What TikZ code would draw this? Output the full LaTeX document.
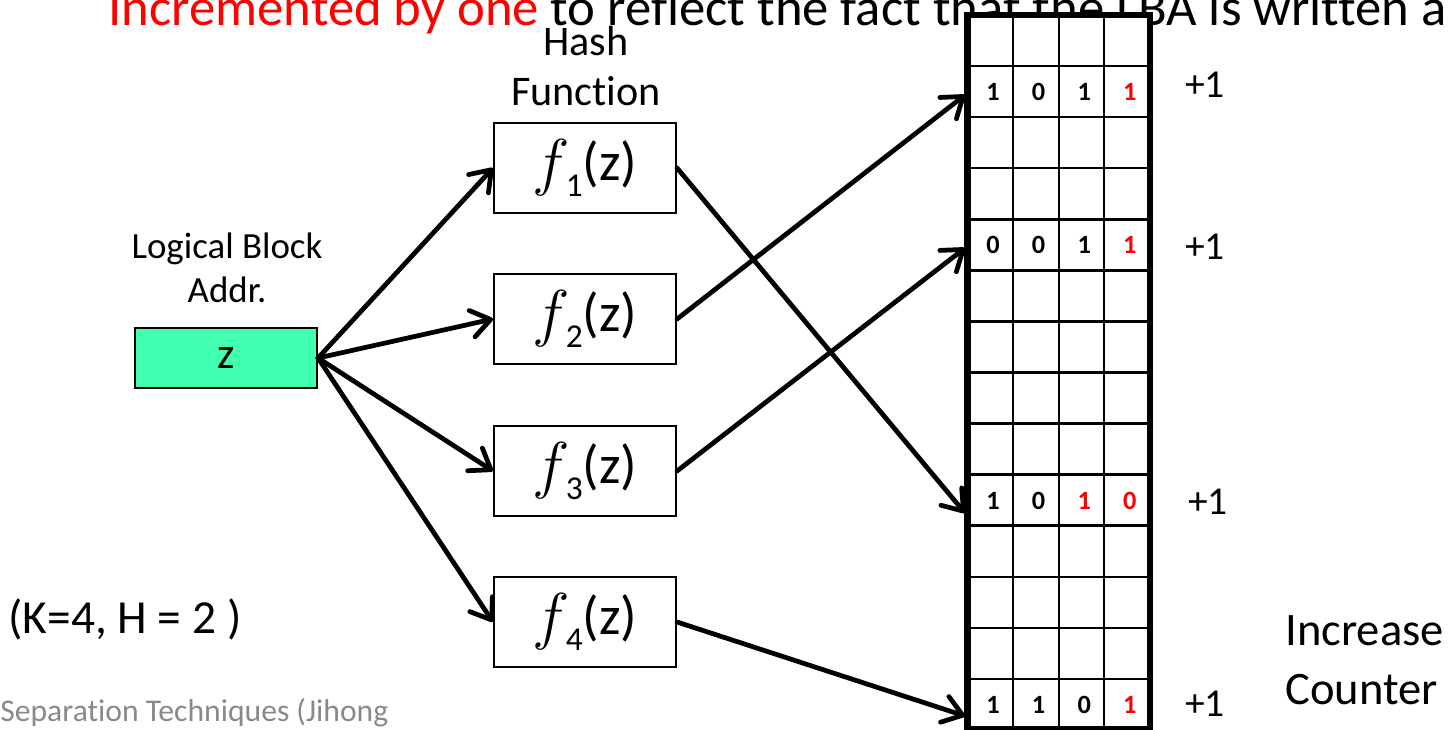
\documentclass[tikz,border=0pt]{standalone}
\usepackage{fontspec}
\setmainfont{Carlito}[Ligatures=NoCommon]
\usetikzlibrary{arrows.meta}
\definecolor{mint}{RGB}{64,255,175}
\definecolor{sepgray}{RGB}{137,137,137}
\newcommand\fsz[1]{\fontsize{#1}{#1}\selectfont}
\newcommand\fz[1]{\raisebox{-0.06em}{\scalebox{1.45}{$f$}}\kern-0.08em\raisebox{-0.3em}{\fsz{19}#1}(z)}
\tikzset{
  conn/.style={line width=2.7pt, line cap=round, -{Straight Barb[length=3.8mm,width=5.4mm,round]}},
  fbox/.style={draw, line width=1.2pt, minimum width=3.64cm, minimum height=1.8cm, inner sep=0pt, font=\fsz{31}},
  lbl/.style={inner sep=0pt, anchor=base},
  lblw/.style={inner sep=0pt, anchor=base west},
  cell/.style={inner sep=0pt, anchor=base, font=\bfseries\fsz{15}},
  plus/.style={inner sep=0pt, anchor=base, font=\fsz{22.5}},
  gridthin/.style={line width=1.4pt},
  gridthick/.style={line width=3.8pt},
}
\begin{document}
\begin{tikzpicture}[x=0.02cm,y=-0.02cm]
\useasboundingbox (0,0) rectangle (1451,730);
% top clipped sentence
\node[lblw, font=\fsz{30}] (top) at (108,26) {\textcolor{red}{Incremented by one} to reflect the fact that the LBA is written a};

% labels
\node[lbl, font=\fsz{24}] (hash) at (586,55) {Hash};
\node[lbl, font=\fsz{24}] (func) at (586,105) {Function};
\node[lbl, font=\fsz{21}] (lb) at (227,258) {Logical Block};
\node[lbl, font=\fsz{21}] (addr) at (227,302) {Addr.};
\node[lblw, font=\fsz{27}] (kh) at (8,633) {(K=4, H = 2 )};
\node[lblw, font=\fsz{18}, text=sepgray] (sep) at (0,721) {Separation Techniques (Jihong};
\node[lblw, font=\fsz{26.5}] (inc) at (1285,645) {Increase};
\node[lblw, font=\fsz{26.5}] (cnt) at (1285,704) {Counter};

% z box
\node[draw, line width=1.2pt, fill=mint, minimum width=3.64cm, minimum height=1.2cm, inner sep=0pt, font=\fsz{25}] (z) at (226,358) {z};

% hash boxes
\node[fbox] (f1) at (585,168) {\fz{1}};
\node[fbox] (f2) at (585,319) {\fz{2}};
\node[fbox] (f3) at (585,471) {\fz{3}};
\node[fbox] (f4) at (585,622) {\fz{4}};

% counter array
\fill[white] (967,15) rectangle (1150,730);
\foreach \k in {1,...,13} \draw[gridthin] (967,15+\k*51.07) -- (1150,15+\k*51.07);
\foreach \x in {1013,1059,1104} \draw[gridthin] (\x,15) -- (\x,730);
\draw[gridthick] (967.5,15) rectangle (1150,729);

% cell values
\foreach \v/\c [count=\i] in {1/black,0/black,1/black,1/red} {
  \node[cell, text=\c] (a\i) at ({993+45.6*(\i-1)},100) {\v};}
\foreach \v/\c [count=\i] in {0/black,0/black,1/black,1/red} {
  \node[cell, text=\c] (b\i) at ({993+45.6*(\i-1)},253) {\v};}
\foreach \v/\c [count=\i] in {1/black,0/black,1/red,0/red} {
  \node[cell, text=\c] (c\i) at ({993+45.6*(\i-1)},509) {\v};}
\foreach \v/\c [count=\i] in {1/black,1/black,0/black,1/red} {
  \node[cell, text=\c] (d\i) at ({993+45.6*(\i-1)},713) {\v};}

% +1 labels
\node[plus] (p1) at (1205,97) {+1};
\node[plus] (p2) at (1205,259) {+1};
\node[plus] (p3) at (1208,514) {+1};
\node[plus] (p4) at (1205,716) {+1};

% arrow targets on the array
\coordinate (t1) at (965,95);
\coordinate (t4) at (965,248);
\coordinate (t9) at (965,513);
\coordinate (t13) at (965,716);

% connectors
\draw[conn] (z.east) -- (f1.west);
\draw[conn] (z.east) -- (f2.west);
\draw[conn] (z.east) -- (f3.west);
\draw[conn] (z.east) -- (f4.west);
\draw[conn] (f1.east) -- (t9);
\draw[conn] (f2.east) -- (t1);
\draw[conn] (f3.east) -- (t4);
\draw[conn] (f4.east) -- (t13);
\end{tikzpicture}
\end{document}
